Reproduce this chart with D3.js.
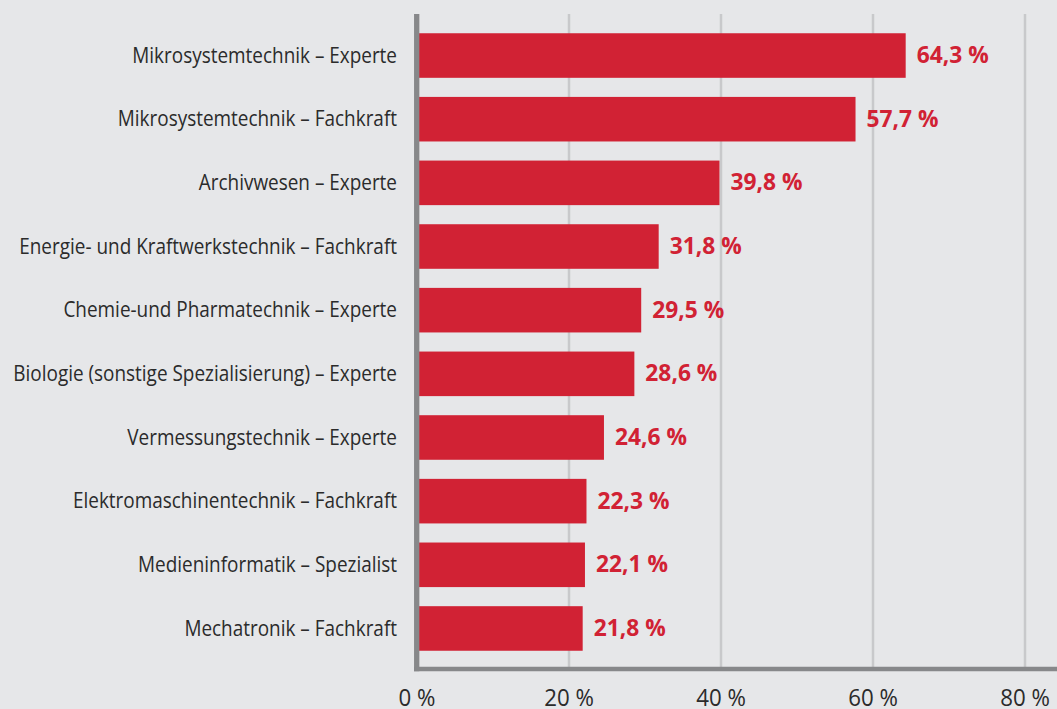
<!DOCTYPE html>
<html><head><meta charset="utf-8">
<script src="https://cdn.jsdelivr.net/npm/d3@7"></script>
<style>html,body{margin:0;padding:0;background:#e6e7e9;}svg{display:block;}</style>
</head><body>
<svg id="c" width="1057" height="709"></svg>
<script>
const categories = [
  "Mikrosystemtechnik – Experte",
  "Mikrosystemtechnik – Fachkraft",
  "Archivwesen – Experte",
  "Energie- und Kraftwerkstechnik – Fachkraft",
  "Chemie-und Pharmatechnik – Experte",
  "Biologie (sonstige Spezialisierung) – Experte",
  "Vermessungstechnik – Experte",
  "Elektromaschinentechnik – Fachkraft",
  "Medieninformatik – Spezialist",
  "Mechatronik – Fachkraft"
];
const values = [64.3, 57.7, 39.8, 31.8, 29.5, 28.6, 24.6, 22.3, 22.1, 21.8];
const tickValues = [0, 20, 40, 60, 80];
const tickLabels = ["0 %", "20 %", "40 %", "60 %", "80 %"];

(function () {
const svg = d3.select("#c");
const W = 1057, H = 709;
const FONT = "'Open Sans', sans-serif";
svg.append("rect").attr("width", W).attr("height", H).attr("fill", "#e6e7e9");

const x = d3.scaleLinear().domain([0, 80]).range([417, 1025]);
const y = d3.scaleBand().domain(categories).range([23.7, 660.3]).paddingInner(0.3).paddingOuter(0.15);

const plotTop = 14, axisY = 669;
// gridlines
svg.append("g").selectAll("line").data(tickValues.slice(1)).join("line")
  .attr("x1", d => x(d)).attr("x2", d => x(d))
  .attr("y1", plotTop).attr("y2", axisY)
  .attr("stroke", "#c8c9cb").attr("stroke-width", 2.5);

// bars
svg.append("g").selectAll("rect").data(values).join("rect")
  .attr("x", x(0)).attr("y", (d, i) => y(categories[i]))
  .attr("width", d => x(d) - x(0)).attr("height", y.bandwidth())
  .attr("fill", "#d12234");

// axes lines
svg.append("line").attr("x1", 414).attr("x2", W).attr("y1", axisY).attr("y2", axisY)
  .attr("stroke", "#87888a").attr("stroke-width", 4.5);
svg.append("line").attr("x1", 416.7).attr("x2", 416.7).attr("y1", plotTop).attr("y2", axisY + 2.2)
  .attr("stroke", "#87888a").attr("stroke-width", 5.3);

function measure(txt, size, weight) {
  const t = svg.append("text").attr("font-family", FONT).attr("font-size", size)
    .attr("font-weight", weight).text(txt);
  const w = t.node().getComputedTextLength();
  t.remove();
  return w;
}
const LSIZE = 22.5;
const fLabel = 0.5 * (387 / measure(categories[5], LSIZE, 400) + 375 / measure(categories[3], LSIZE, 400));
const VSIZE = 23;
const fVal = 72 / measure("64,3 %", VSIZE, 700);
const TSIZE = 23;
const fTick = (435 - 398) / measure("0 %", TSIZE, 400);

// category labels
svg.append("g").selectAll("text").data(categories).join("text")
  .attr("transform", d => `translate(397,${y(d) + y.bandwidth() / 2 + 7.2}) scale(${fLabel},1)`)
  .attr("text-anchor", "end").attr("font-family", FONT).attr("font-size", LSIZE)
  .attr("fill", "#2b2b2b").text(d => d);

// value labels
svg.append("g").selectAll("text").data(values).join("text")
  .attr("transform", (d, i) => `translate(${x(d) + 11},${y(categories[i]) + y.bandwidth() / 2 + 7.5}) scale(${fVal},1)`)
  .attr("font-family", FONT).attr("font-size", VSIZE).attr("font-weight", 700)
  .attr("fill", "#d12234").text(d => d.toFixed(1).replace(".", ",") + " %");

// tick labels
svg.append("g").selectAll("text").data(tickValues).join("text")
  .attr("transform", d => `translate(${x(d)},706) scale(${fTick},1)`)
  .attr("text-anchor", "middle").attr("font-family", FONT).attr("font-size", TSIZE)
  .attr("fill", "#2b2b2b").text((d, i) => tickLabels[i]);
})();
</script>
</body></html>
